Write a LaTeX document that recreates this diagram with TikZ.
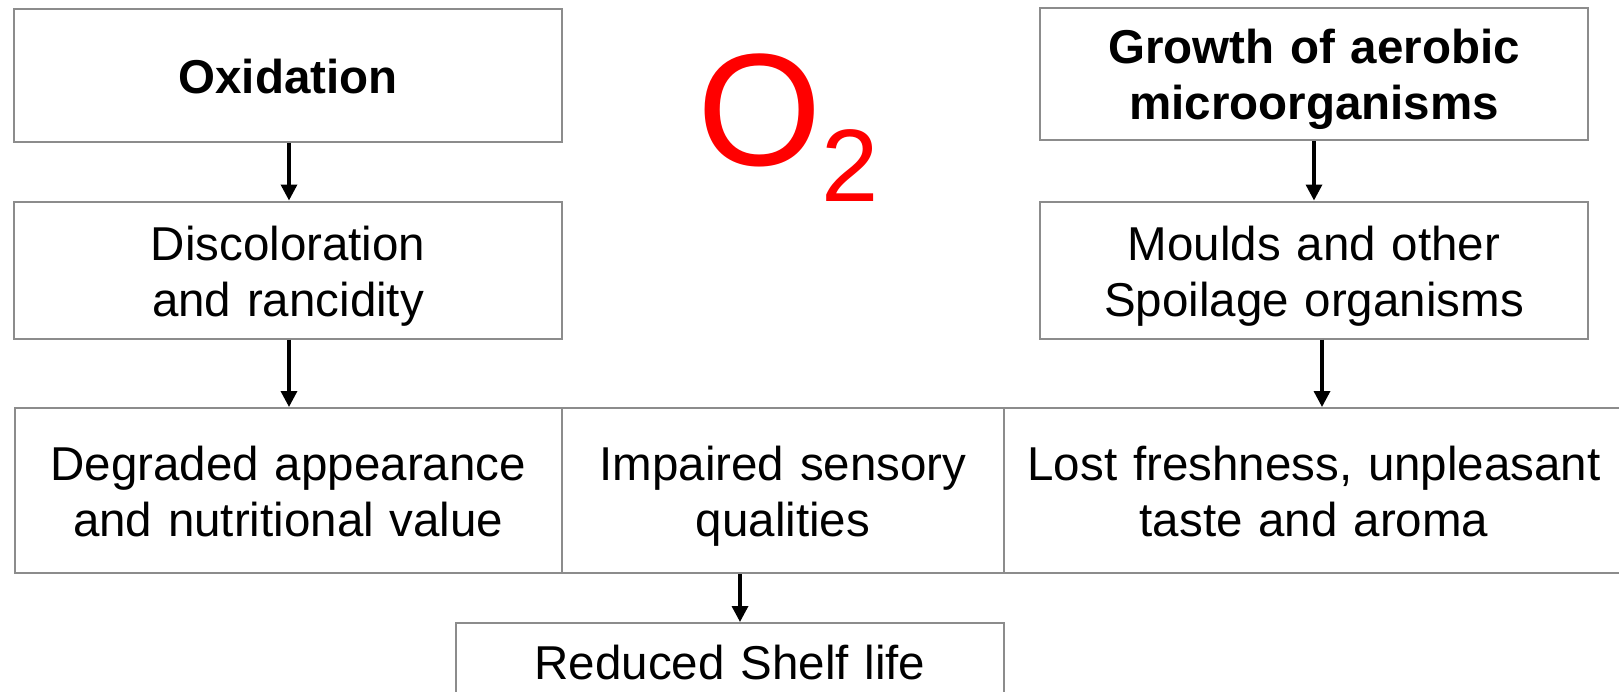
\documentclass[tikz,border=0pt]{standalone}
\usepackage{fontspec}
\setmainfont{Liberation Sans}
\usetikzlibrary{arrows.meta}
\definecolor{boxgray}{HTML}{8C8C8C}
\definecolor{o2red}{HTML}{FF0000}
\newcommand{\bstrut}{\rule[-10pt]{0pt}{56pt}}
\begin{document}
\begin{tikzpicture}[x=1pt,y=-1pt,
  box/.style={draw=boxgray, line width=2pt, fill=white, align=center, inner sep=0pt,
    minimum width=#1, text width=#1, font=\fontsize{47.5}{56}\selectfont},
  arr/.style={line width=3.4pt, -{Triangle[length=16pt,width=16pt]}}]
\useasboundingbox[fill=white] (0,0) rectangle (1619,691);
% top left column
\node[box=547.5pt, minimum height=132.5pt] (ox) at (288,75.5) {\bstrut\textbf{Oxidation}\bstrut};
\node[box=547.5pt, minimum height=137pt] (disc) at (288,270) {\bstrut Discoloration\\and rancidity\bstrut};
% top right column
\node[box=548pt, minimum height=132pt] (grow) at (1314,74) {\bstrut\textbf{Growth of aerobic}\\\textbf{microorganisms}\bstrut};
\node[box=548pt, minimum height=137pt] (mould) at (1314,270) {\bstrut Moulds and other\\Spoilage organisms\bstrut};
% bottom row
\node[box=547.5pt, minimum height=165pt] (deg) at (288.25,490.5) {\bstrut Degraded appearance\\and nutritional value\bstrut};
\node[box=442pt, minimum height=165pt] (imp) at (783,490.5) {\bstrut Impaired sensory\\qualities\bstrut};
\node[box=620pt, minimum height=165pt] (lost) at (1314,490.5) {\bstrut Lost freshness, unpleasant\\taste and aroma\bstrut};
% result
\node[box=548pt, minimum height=76pt] (red) at (730,661) {\bstrut Reduced Shelf life\bstrut};
% O2
\node[anchor=base west, inner sep=0pt, text=o2red, font=\fontsize{160}{160}\selectfont] (o2) at (697,165)
  {O\raisebox{-36pt}{\fontsize{103}{103}\selectfont 2}};
% arrows
\draw[arr] ([xshift=1pt]ox.south) -- ([xshift=1pt]disc.north);
\draw[arr] ([xshift=1pt]disc.south) -- ([xshift=1pt]disc.south |- deg.north);
\draw[arr] (grow.south) -- (mould.north);
\draw[arr] ([xshift=8pt]mould.south) -- ([xshift=8pt]mould.south |- lost.north);
\draw[arr] ([xshift=10pt]red.north |- imp.south) -- ([xshift=10pt]red.north);
\end{tikzpicture}
\end{document}
